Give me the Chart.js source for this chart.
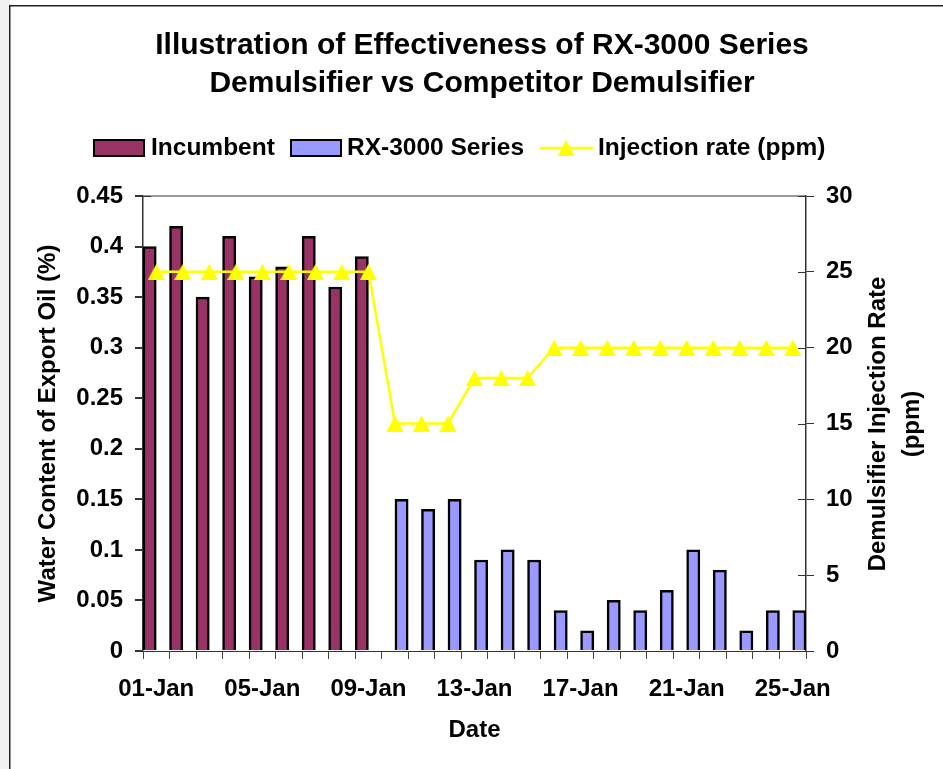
<!DOCTYPE html>
<html>
<head>
<meta charset="utf-8">
<script src="https://cdn.jsdelivr.net/npm/chart.js@4"></script>
<style>
  body { margin: 0; background: #fff; }
  canvas { display: block; }
</style>
</head>
<body>
<canvas id="ctx" width="943" height="769"></canvas>
<script>
const dates = ['01-Jan', '02-Jan', '03-Jan', '04-Jan', '05-Jan', '06-Jan', '07-Jan', '08-Jan', '09-Jan', '10-Jan',
  '11-Jan', '12-Jan', '13-Jan', '14-Jan', '15-Jan', '16-Jan', '17-Jan', '18-Jan', '19-Jan', '20-Jan',
  '21-Jan', '22-Jan', '23-Jan', '24-Jan', '25-Jan']
const incumbent = [0.40, 0.42, 0.35, 0.41, 0.37, 0.38, 0.41, 0.36, 0.39, null,
  null, null, null, null, null, null, null, null, null, null,
  null, null, null, null, null]
const rx3000 = [null, null, null, null, null, null, null, null, null, 0.15,
  0.14, 0.15, 0.09, 0.10, 0.09, 0.04, 0.02, 0.05, 0.04, 0.06,
  0.10, 0.08, 0.02, 0.04, 0.04]
const injection = [25, 25, 25, 25, 25, 25, 25, 25, 25, 15,
  15, 15, 18, 18, 18, 20, 20, 20, 20, 20,
  20, 20, 20, 20, 20]

const FONT = "'Liberation Sans', Arial, sans-serif"

// triangle marker, centred in its own box like the Excel one
function makeTriangle(w, h, color) {
  const c = document.createElement('canvas')
  c.width = w
  c.height = h
  const g = c.getContext('2d')
  g.fillStyle = color
  g.beginPath()
  g.moveTo(w / 2, 0)
  g.lineTo(w, h)
  g.lineTo(0, h)
  g.closePath()
  g.fill()
  return c
}
const tri = makeTriangle(17, 16, '#FFFF00')

const frame = {
  id: 'frame',
  beforeDraw: (chart) => {
    const {ctx} = chart
    ctx.save()
    ctx.fillStyle = '#f0f0f0'
    ctx.fillRect(0, 0, 10, chart.height)
    ctx.fillStyle = '#ffffff'
    ctx.fillRect(10, 6, chart.width - 10, chart.height - 6)
    ctx.strokeStyle = '#222'
    ctx.lineWidth = 1.5
    ctx.beginPath()
    ctx.moveTo(9.75, chart.height)
    ctx.lineTo(9.75, 5.75)
    ctx.lineTo(chart.width, 5.75)
    ctx.stroke()
    ctx.restore()
  },
  beforeDatasetsDraw: (chart) => {
    // inner half of the cross tick marks on both value axes
    const {ctx} = chart
    ctx.save()
    ctx.strokeStyle = '#333'
    ctx.lineWidth = 1
    const y = chart.scales.y, y1 = chart.scales.y1
    y.ticks.forEach((t, i) => {
      const py = Math.round(y.getPixelForTick(i)) + 0.5
      ctx.beginPath(); ctx.moveTo(y.right, py); ctx.lineTo(y.right + 8, py); ctx.stroke()
    })
    y1.ticks.forEach((t, i) => {
      const py = Math.round(y1.getPixelForTick(i)) + 0.5
      ctx.beginPath(); ctx.moveTo(y1.left - 8, py); ctx.lineTo(y1.left, py); ctx.stroke()
    })
    ctx.restore()
  },
  afterDraw: (chart) => {
    const {ctx} = chart
    ctx.save()
    ctx.fillStyle = '#000'
    ctx.textAlign = 'center'
    ctx.textBaseline = 'middle'
    ctx.font = 'bold 30px ' + FONT
    ctx.fillText('Illustration of Effectiveness of RX-3000 Series', 482, 46)
    ctx.fillText('Demulsifier vs Competitor Demulsifier', 482, 84)

    // right axis title, reads bottom to top
    ctx.font = 'bold 24px ' + FONT
    ctx.translate(878, 424)
    ctx.rotate(-Math.PI / 2)
    ctx.fillText('Demulsifier Injection Rate', 0, 0)
    ctx.fillText('(ppm)', 0, 34)
    ctx.restore()

    // legend
    ctx.save()
    ctx.font = 'bold 24.5px ' + FONT
    ctx.textBaseline = 'middle'
    ctx.textAlign = 'left'
    const ly = 148
    ctx.lineWidth = 2
    ctx.strokeStyle = '#000'
    ctx.fillStyle = '#993366'
    ctx.fillRect(94, 140, 50, 16)
    ctx.strokeRect(94, 140, 50, 16)
    ctx.fillStyle = '#000'
    ctx.fillText('Incumbent', 151, ly)
    ctx.fillStyle = '#9999FF'
    ctx.fillRect(291, 140, 50, 16)
    ctx.strokeRect(291, 140, 50, 16)
    ctx.fillStyle = '#000'
    ctx.fillText('RX-3000 Series', 347, ly)
    ctx.strokeStyle = '#FFFF00'
    ctx.lineWidth = 2.5
    ctx.beginPath(); ctx.moveTo(540, ly); ctx.lineTo(593, ly); ctx.stroke()
    ctx.drawImage(tri, 566 - 8.5, ly - 8)
    ctx.fillText('Injection rate (ppm)', 598, ly)
    ctx.restore()
  }
}

const noPad = (scale) => {
  scale.paddingTop = 0
  scale.paddingBottom = 0
  scale.paddingLeft = 0
  scale.paddingRight = 0
}

const data = {
  labels: dates,
  datasets: [
    {
      type: 'line',
      label: 'Injection rate (ppm)',
      data: injection,
      yAxisID: 'y1',
      borderColor: '#FFFF00',
      backgroundColor: '#FFFF00',
      borderWidth: 2.5,
      pointStyle: tri,
      pointRadius: 8,
      tension: 0,
      order: 0
    },
    {
      label: 'Incumbent',
      data: incumbent,
      yAxisID: 'y',
      backgroundColor: '#993366',
      borderColor: '#000',
      borderWidth: 2.5,
      categoryPercentage: 1,
      barPercentage: 1,
      order: 1
    },
    {
      label: 'RX-3000 Series',
      data: rx3000,
      yAxisID: 'y',
      backgroundColor: '#9999FF',
      borderColor: '#000',
      borderWidth: 2.5,
      categoryPercentage: 1,
      barPercentage: 1,
      order: 1
    }
  ]
}

const options = {
  type: 'bar',
  data: data,
  options: {
    responsive: false,
    animation: false,
    devicePixelRatio: 1,
    layout: {padding: {top: 196, left: 0, right: 0, bottom: 0}},
    plugins: {
      legend: {display: false},
      title: {display: false},
      tooltip: {enabled: false}
    },
    scales: {
      x: {
        offset: true,
        grid: {offset: true, drawOnChartArea: false, drawTicks: true, tickLength: 8, tickColor: '#444'},
        border: {display: true, color: '#333', width: 1},
        ticks: {
          autoSkip: false,
          maxRotation: 0,
          color: '#000',
          padding: 16,
          font: {family: FONT, size: 24, weight: 'bold'},
          callback: function(val, i) { return i % 4 === 0 ? dates[i] : '' }
        },
        title: {display: true, text: 'Date', color: '#000', padding: {top: 0, bottom: 24},
          font: {family: FONT, size: 24, weight: 'bold'}},
        afterFit: (scale) => { scale.height = 118; noPad(scale) }
      },
      y: {
        position: 'left',
        min: 0,
        max: 0.45,
        grid: {
          drawOnChartArea: true,
          tickLength: 8,
          tickColor: '#333',
          color: (c) => c.index === 9 ? '#999' : 'rgba(0,0,0,0)',
          lineWidth: 2
        },
        border: {display: true, color: '#333', width: 1.5},
        ticks: {
          stepSize: 0.05,
          color: '#000',
          padding: 12,
          font: {family: FONT, size: 24, weight: 'bold'},
          callback: (v) => String(+v.toFixed(2))
        },
        title: {display: true, text: 'Water Content of Export Oil (%)', color: '#000', padding: {top: 34, bottom: 0},
          font: {family: FONT, size: 24, weight: 'bold'}},
        afterFit: (scale) => { scale.width = 143; noPad(scale) }
      },
      y1: {
        position: 'right',
        min: 0,
        max: 30,
        grid: {drawOnChartArea: false, tickLength: 8, tickColor: '#333'},
        border: {display: true, color: '#333', width: 1.5},
        ticks: {
          stepSize: 5,
          color: '#000',
          padding: 12,
          font: {family: FONT, size: 24, weight: 'bold'}
        },
        afterFit: (scale) => { scale.width = 137; noPad(scale) }
      }
    }
  },
  plugins: [frame]
}

const chart = new Chart(document.getElementById('ctx'), options)
</script>
</body>
</html>
